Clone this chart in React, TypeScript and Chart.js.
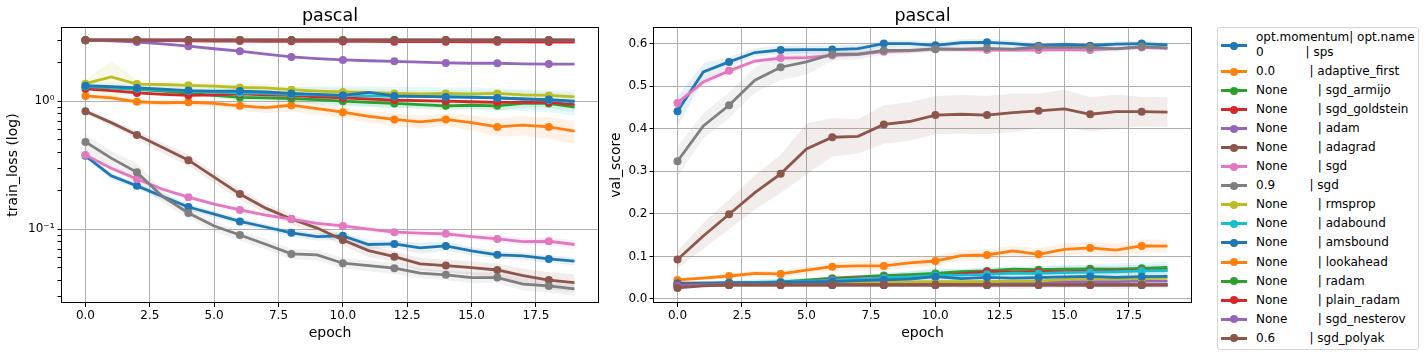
import React, { useEffect, useRef } from "react";
import { Chart, registerables } from "chart.js";
Chart.register(...registerables);

// ---------- data ----------
const EPOCHS = [0, 1, 2, 3, 4, 5, 6, 7, 8, 9, 10, 11, 12, 13, 14, 15, 16, 17, 18, 19];
const MARKER_EPOCHS = [0, 2, 4, 6, 8, 10, 12, 14, 16, 18];
const X_TICKS = [0, 2.5, 5, 7.5, 10, 12.5, 15, 17.5];
const LOG_TICKS = [0.03, 0.04, 0.05, 0.06, 0.07, 0.08, 0.09, 0.1, 0.2, 0.3, 0.4, 0.5, 0.6, 0.7, 0.8, 0.9, 1, 2, 3];
const LOG_MAJOR = [0.1, 1];
const LOG_LABELS = ["10⁻¹", "10⁰"];
const VAL_TICKS = [0, 0.1, 0.2, 0.3, 0.4, 0.5, 0.6];

const TITLE = "pascal";
const LEGEND_HEADER = "opt.momentum| opt.name";
const OPT_MOMENTUM = ["0", "0.0", "None", "None", "None", "None", "None", "0.9", "None", "None", "None", "None", "None", "None", "None", "0.6"];
const OPT_NAME = ["sps", "adaptive_first", "sgd_armijo", "sgd_goldstein", "adam", "adagrad", "sgd", "sgd", "rmsprop", "adabound", "amsbound", "lookahead", "radam", "plain_radam", "sgd_nesterov", "sgd_polyak"];
const COLORS = ["#1f77b4", "#ff7f0e", "#2ca02c", "#d62728", "#9467bd", "#8c564b", "#e377c2", "#7f7f7f", "#bcbd22", "#17becf", "#1f77b4", "#ff7f0e", "#2ca02c", "#d62728", "#9467bd", "#8c564b"];

// train_loss
const TRAIN_SPS = [0.374, 0.261, 0.218, 0.18, 0.149, 0.131, 0.115, 0.104, 0.0936, 0.0875, 0.0887, 0.0759, 0.0767, 0.0714, 0.074, 0.0676, 0.063, 0.0618, 0.0586, 0.0562];
const TRAIN_ADAPTIVE_FIRST = [1.1, 1.06, 0.99, 0.97, 0.98, 0.96, 0.92, 0.89, 0.93, 0.875, 0.82, 0.76, 0.72, 0.69, 0.72, 0.68, 0.63, 0.65, 0.63, 0.583];
const TRAIN_SGD_ARMIJO = [1.29, 1.27, 1.24, 1.2, 1.15, 1.11, 1.07, 1.06, 1.05, 1.03, 1.0, 0.98, 0.96, 0.94, 0.92, 0.93, 0.92, 0.96, 0.96, 0.9];
const TRAIN_SGD_GOLDSTEIN = [1.25, 1.21, 1.16, 1.13, 1.11, 1.12, 1.14, 1.12, 1.11, 1.08, 1.06, 1.04, 1.02, 1.01, 1.0, 0.99, 0.98, 0.98, 0.98, 0.94];
const TRAIN_ADAM = [3.0, 2.96, 2.9, 2.8, 2.69, 2.57, 2.46, 2.33, 2.22, 2.15, 2.1, 2.07, 2.05, 2.02, 1.99, 1.98, 1.98, 1.96, 1.95, 1.95];
const TRAIN_ADAGRAD = [0.835, 0.68, 0.545, 0.434, 0.346, 0.255, 0.188, 0.146, 0.12, 0.102, 0.0824, 0.068, 0.061, 0.0536, 0.052, 0.05, 0.048, 0.0434, 0.04, 0.0383];
const TRAIN_SGD = [0.38, 0.299, 0.247, 0.205, 0.178, 0.157, 0.1415, 0.129, 0.12, 0.111, 0.106, 0.1, 0.0947, 0.093, 0.092, 0.0876, 0.084, 0.08, 0.0805, 0.0759];
const TRAIN_SGD_09 = [0.481, 0.359, 0.278, 0.18, 0.134, 0.106, 0.09, 0.0763, 0.0641, 0.063, 0.0542, 0.052, 0.0496, 0.0453, 0.044, 0.0419, 0.0419, 0.0372, 0.036, 0.0342];
const TRAIN_RMSPROP = [1.37, 1.55, 1.36, 1.35, 1.33, 1.31, 1.28, 1.27, 1.23, 1.2, 1.18, 1.17, 1.15, 1.14, 1.15, 1.14, 1.15, 1.12, 1.11, 1.08];
const TRAIN_ADABOUND = [1.3, 1.28, 1.25, 1.22, 1.2, 1.18, 1.16, 1.15, 1.13, 1.12, 1.11, 1.1, 1.09, 1.09, 1.08, 1.08, 1.06, 1.04, 1.02, 0.99];
const TRAIN_AMSBOUND = [1.32, 1.3, 1.27, 1.24, 1.21, 1.2, 1.2, 1.18, 1.15, 1.13, 1.11, 1.17, 1.1, 1.09, 1.08, 1.07, 1.06, 1.04, 1.03, 1.0];
const TRAIN_LOOKAHEAD = [3.0, 3.0, 3.0, 3.0, 3.0, 3.0, 3.0, 3.0, 3.0, 3.0, 3.0, 3.0, 3.0, 3.0, 3.0, 3.0, 3.0, 3.0, 3.0, 3.0];
const TRAIN_RADAM = [3.0, 3.0, 3.0, 2.99, 2.99, 2.99, 2.99, 2.99, 2.99, 2.99, 2.99, 2.99, 2.99, 2.99, 2.99, 2.99, 2.99, 2.99, 2.99, 2.99];
const TRAIN_PLAIN_RADAM = [3.0, 2.99, 2.98, 2.97, 2.96, 2.95, 2.95, 2.94, 2.94, 2.93, 2.93, 2.93, 2.92, 2.92, 2.92, 2.91, 2.91, 2.91, 2.9, 2.9];
const TRAIN_SGD_NESTEROV = [3.0, 3.0, 3.0, 3.0, 3.0, 3.0, 3.0, 3.0, 3.0, 3.0, 3.0, 3.0, 3.0, 3.0, 3.0, 3.0, 3.0, 3.0, 3.0, 3.0];
const TRAIN_SGD_POLYAK = [3.01, 3.01, 3.01, 3.01, 3.01, 3.01, 3.01, 3.01, 3.01, 3.01, 3.01, 3.01, 3.01, 3.01, 3.01, 3.01, 3.01, 3.01, 3.01, 3.01];

// spread (half-width of shaded band) for train_loss
const TRAIN_BAND_SPS = [0.02, 0.015, 0.012, 0.01, 0.009, 0.008, 0.007, 0.006, 0.006, 0.006, 0.006, 0.006, 0.005, 0.007, 0.006, 0.005, 0.004, 0.004, 0.004, 0.004];
const TRAIN_BAND_ADAPTIVE_FIRST = [0.06, 0.06, 0.05, 0.05, 0.06, 0.06, 0.07, 0.08, 0.1, 0.09, 0.08, 0.08, 0.08, 0.08, 0.08, 0.09, 0.1, 0.11, 0.12, 0.12];
const TRAIN_BAND_SGD_ARMIJO = [0.05, 0.05, 0.05, 0.05, 0.05, 0.05, 0.06, 0.06, 0.06, 0.06, 0.06, 0.07, 0.07, 0.07, 0.07, 0.07, 0.08, 0.08, 0.08, 0.08];
const TRAIN_BAND_ADAGRAD = [0.04, 0.04, 0.04, 0.04, 0.035, 0.025, 0.018, 0.013, 0.011, 0.009, 0.008, 0.007, 0.006, 0.006, 0.006, 0.006, 0.006, 0.006, 0.006, 0.006];
const TRAIN_BAND_SGD = [0.015, 0.012, 0.01, 0.008, 0.007, 0.006, 0.006, 0.005, 0.005, 0.005, 0.005, 0.005, 0.005, 0.005, 0.005, 0.005, 0.005, 0.005, 0.006, 0.006];
const TRAIN_BAND_SGD_09 = [0.07, 0.05, 0.05, 0.02, 0.012, 0.01, 0.008, 0.007, 0.006, 0.006, 0.005, 0.005, 0.005, 0.004, 0.004, 0.004, 0.004, 0.004, 0.004, 0.004];
const TRAIN_BAND_RMSPROP = [0.1, 0.5, 0.1, 0.08, 0.08, 0.08, 0.08, 0.1, 0.08, 0.08, 0.08, 0.08, 0.08, 0.08, 0.08, 0.08, 0.08, 0.08, 0.08, 0.08];
const TRAIN_BAND_ADABOUND = [0.1, 0.1, 0.1, 0.1, 0.1, 0.1, 0.12, 0.12, 0.15, 0.18, 0.2, 0.2, 0.2, 0.2, 0.2, 0.2, 0.2, 0.2, 0.2, 0.22];

// val_score
const VAL_SPS = [0.441, 0.5335, 0.557, 0.579, 0.585, 0.586, 0.586, 0.588, 0.6, 0.6, 0.596, 0.602, 0.603, 0.6, 0.595, 0.598, 0.595, 0.599, 0.6, 0.597];
const VAL_ADAPTIVE_FIRST = [0.0447, 0.049, 0.054, 0.06, 0.0588, 0.068, 0.076, 0.078, 0.0776, 0.085, 0.0893, 0.1018, 0.1034, 0.1128, 0.105, 0.1168, 0.12, 0.115, 0.1246, 0.124];
const VAL_SGD_ARMIJO = [0.035, 0.036, 0.037, 0.038, 0.04, 0.044, 0.049, 0.052, 0.055, 0.057, 0.06, 0.064, 0.066, 0.07, 0.069, 0.07, 0.071, 0.07, 0.072, 0.074];
const VAL_SGD_GOLDSTEIN = [0.034, 0.036, 0.037, 0.038, 0.039, 0.042, 0.046, 0.049, 0.051, 0.052, 0.053, 0.059, 0.064, 0.063, 0.064, 0.064, 0.065, 0.066, 0.067, 0.068];
const VAL_ADAM = [0.031, 0.034, 0.035, 0.035, 0.036, 0.036, 0.037, 0.037, 0.038, 0.038, 0.039, 0.039, 0.04, 0.04, 0.04, 0.041, 0.041, 0.041, 0.042, 0.042];
const VAL_ADAGRAD = [0.093, 0.148, 0.199, 0.25, 0.294, 0.3525, 0.38, 0.382, 0.41, 0.417, 0.432, 0.434, 0.432, 0.438, 0.442, 0.4465, 0.434, 0.44, 0.44, 0.439];
const VAL_SGD = [0.4606, 0.51, 0.536, 0.559, 0.566, 0.567, 0.572, 0.575, 0.581, 0.583, 0.587, 0.586, 0.585, 0.585, 0.585, 0.586, 0.585, 0.588, 0.591, 0.589];
const VAL_SGD_09 = [0.3235, 0.4066, 0.455, 0.514, 0.5445, 0.557, 0.575, 0.575, 0.584, 0.584, 0.5875, 0.587, 0.589, 0.587, 0.592, 0.591, 0.591, 0.5875, 0.593, 0.59];
const VAL_RMSPROP = [0.03, 0.032, 0.034, 0.034, 0.035, 0.036, 0.037, 0.037, 0.039, 0.04, 0.041, 0.041, 0.041, 0.042, 0.042, 0.046, 0.048, 0.047, 0.048, 0.049];
const VAL_ADABOUND = [0.036, 0.037, 0.038, 0.039, 0.04, 0.042, 0.044, 0.047, 0.05, 0.052, 0.055, 0.056, 0.058, 0.061, 0.06, 0.062, 0.063, 0.064, 0.066, 0.067];
const VAL_AMSBOUND = [0.037, 0.037, 0.038, 0.038, 0.039, 0.04, 0.041, 0.043, 0.045, 0.047, 0.0525, 0.048, 0.051, 0.049, 0.05, 0.052, 0.053, 0.051, 0.0525, 0.053];
const VAL_LOOKAHEAD = [0.033, 0.033, 0.033, 0.033, 0.033, 0.033, 0.033, 0.033, 0.033, 0.033, 0.033, 0.033, 0.033, 0.033, 0.033, 0.033, 0.033, 0.033, 0.033, 0.033];
const VAL_RADAM = [0.033, 0.033, 0.033, 0.033, 0.033, 0.033, 0.033, 0.033, 0.033, 0.033, 0.033, 0.033, 0.033, 0.033, 0.033, 0.033, 0.033, 0.033, 0.033, 0.033];
const VAL_PLAIN_RADAM = [0.033, 0.033, 0.033, 0.033, 0.033, 0.033, 0.033, 0.033, 0.033, 0.033, 0.033, 0.033, 0.033, 0.033, 0.033, 0.033, 0.033, 0.033, 0.033, 0.033];
const VAL_SGD_NESTEROV = [0.031, 0.033, 0.033, 0.033, 0.033, 0.033, 0.033, 0.033, 0.033, 0.033, 0.033, 0.033, 0.033, 0.033, 0.033, 0.033, 0.033, 0.033, 0.033, 0.033];
const VAL_SGD_POLYAK = [0.026, 0.031, 0.033, 0.033, 0.033, 0.033, 0.033, 0.033, 0.033, 0.033, 0.033, 0.033, 0.033, 0.033, 0.033, 0.033, 0.033, 0.033, 0.033, 0.033];

// spread (half-width of shaded band) for val_score
const VAL_BAND_SPS = [0.035, 0.02, 0.012, 0.01, 0.01, 0.01, 0.01, 0.01, 0.008, 0.008, 0.008, 0.008, 0.008, 0.007, 0.007, 0.006, 0.006, 0.006, 0.006, 0.006];
const VAL_BAND_ADAPTIVE_FIRST = [0.005, 0.005, 0.006, 0.007, 0.008, 0.009, 0.01, 0.012, 0.012, 0.012, 0.012, 0.012, 0.013, 0.013, 0.014, 0.014, 0.014, 0.015, 0.015, 0.015];
const VAL_BAND_ADAGRAD = [0.02, 0.03, 0.035, 0.04, 0.045, 0.06, 0.045, 0.04, 0.045, 0.045, 0.045, 0.045, 0.045, 0.045, 0.04, 0.045, 0.04, 0.04, 0.035, 0.035];
const VAL_BAND_SGD = [0.01, 0.008, 0.008, 0.007, 0.006, 0.006, 0.006, 0.006, 0.005, 0.005, 0.005, 0.005, 0.005, 0.005, 0.005, 0.005, 0.005, 0.005, 0.005, 0.005];
const VAL_BAND_SGD_09 = [0.035, 0.03, 0.03, 0.03, 0.03, 0.03, 0.015, 0.012, 0.01, 0.008, 0.007, 0.007, 0.007, 0.006, 0.006, 0.006, 0.006, 0.006, 0.006, 0.006];
const VAL_BAND_ADABOUND = [0.004, 0.004, 0.005, 0.006, 0.007, 0.008, 0.009, 0.01, 0.011, 0.012, 0.013, 0.014, 0.015, 0.016, 0.017, 0.018, 0.019, 0.02, 0.02, 0.02];
const VAL_BAND_AMSBOUND = [0.005, 0.005, 0.006, 0.007, 0.008, 0.009, 0.01, 0.012, 0.015, 0.018, 0.02, 0.022, 0.024, 0.025, 0.025, 0.026, 0.026, 0.027, 0.028, 0.028];

const TRAIN_SERIES = [TRAIN_SPS, TRAIN_ADAPTIVE_FIRST, TRAIN_SGD_ARMIJO, TRAIN_SGD_GOLDSTEIN, TRAIN_ADAM, TRAIN_ADAGRAD, TRAIN_SGD, TRAIN_SGD_09, TRAIN_RMSPROP, TRAIN_ADABOUND, TRAIN_AMSBOUND, TRAIN_LOOKAHEAD, TRAIN_RADAM, TRAIN_PLAIN_RADAM, TRAIN_SGD_NESTEROV, TRAIN_SGD_POLYAK];
const TRAIN_BANDS = [TRAIN_BAND_SPS, TRAIN_BAND_ADAPTIVE_FIRST, TRAIN_BAND_SGD_ARMIJO, null, null, TRAIN_BAND_ADAGRAD, TRAIN_BAND_SGD, TRAIN_BAND_SGD_09, TRAIN_BAND_RMSPROP, TRAIN_BAND_ADABOUND, null, null, null, null, null, null];
const VAL_SERIES = [VAL_SPS, VAL_ADAPTIVE_FIRST, VAL_SGD_ARMIJO, VAL_SGD_GOLDSTEIN, VAL_ADAM, VAL_ADAGRAD, VAL_SGD, VAL_SGD_09, VAL_RMSPROP, VAL_ADABOUND, VAL_AMSBOUND, VAL_LOOKAHEAD, VAL_RADAM, VAL_PLAIN_RADAM, VAL_SGD_NESTEROV, VAL_SGD_POLYAK];
const VAL_BANDS = [VAL_BAND_SPS, VAL_BAND_ADAPTIVE_FIRST, null, null, null, VAL_BAND_ADAGRAD, VAL_BAND_SGD, VAL_BAND_SGD_09, null, VAL_BAND_ADABOUND, VAL_BAND_AMSBOUND, null, null, null, null, null];

// ---------- styling ----------
const FONT = "'DejaVu Sans', sans-serif";
const GRID = "#b0b0b0";
const AXIS_TITLE_SIZE = 14;

function rgba(hex: string, a: number) {
  const n = parseInt(hex.slice(1), 16);
  return `rgba(${(n >> 16) & 255},${(n >> 8) & 255},${n & 255},${a})`;
}

function buildDatasets(series: number[][], bands: (number[] | null)[]) {
  const ds: any[] = [];
  const N = series.length;
  series.forEach((vals, i) => {
    const band = bands[i];
    if (!band) return;
    ds.push({
      data: EPOCHS.map((e, j) => ({ x: e, y: vals[j] + band[j] })),
      borderWidth: 0, borderColor: "rgba(0,0,0,0)", pointRadius: 0, fill: false, order: 200 - i,
    });
    ds.push({
      data: EPOCHS.map((e, j) => ({ x: e, y: vals[j] - band[j] })),
      borderWidth: 0, borderColor: "rgba(0,0,0,0)", pointRadius: 0, fill: "-1",
      backgroundColor: rgba(COLORS[i], 0.11), order: 200 - i,
    });
  });
  series.forEach((vals, i) => {
    ds.push({
      data: EPOCHS.map((e, j) => ({ x: e, y: vals[j] })),
      borderColor: COLORS[i],
      backgroundColor: COLORS[i],
      pointBackgroundColor: COLORS[i],
      borderWidth: 2.8,
      pointBorderWidth: 0,
      pointRadius: (ctx: any) => (MARKER_EPOCHS.includes(EPOCHS[ctx.dataIndex]) ? 4 : 0),
      tension: 0,
      fill: false,
      order: N - i,
    });
  });
  return ds;
}

const framePlugin = {
  id: "frame",
  afterDatasetsDraw(chart: any) {
    const { ctx, chartArea } = chart;
    const { left, top, right, bottom } = chartArea;
    ctx.save();
    ctx.strokeStyle = "#000";
    ctx.lineWidth = 1;
    ctx.strokeRect(Math.round(left) + 0.5, Math.round(top) + 0.5, Math.round(right - left) - 1, Math.round(bottom - top) - 1);
    ctx.restore();
  },
};

function xScale() {
  return {
    type: "linear",
    min: -0.95,
    max: 19.95,
    afterBuildTicks: (s: any) => { s.ticks = X_TICKS.map((v) => ({ value: v })); },
    afterFit: (s: any) => { s.height = 54; },
    ticks: { callback: (v: any) => Number(v).toFixed(1), font: { family: FONT, size: 12 }, color: "#000", padding: 2, autoSkip: false, maxRotation: 0 },
    grid: { color: GRID, lineWidth: 1, tickColor: "#000", tickLength: 4, drawTicks: true },
    border: { display: false },
    title: { display: true, text: "epoch", font: { family: FONT, size: AXIS_TITLE_SIZE }, color: "#000", padding: { top: 0, bottom: 15.5 } },
  };
}

function trainConfig(): any {
  return {
    type: "line",
    data: { datasets: buildDatasets(TRAIN_SERIES, TRAIN_BANDS) },
    options: {
      animation: false, responsive: false, devicePixelRatio: 1, events: [],
      layout: { padding: { top: 27, right: 6, left: 0, bottom: 0 } },
      plugins: { legend: { display: false }, tooltip: { enabled: false }, title: { display: false } },
      scales: {
        x: xScale(),
        y: {
          type: "logarithmic",
          min: 0.0265,
          max: 3.8,
          afterBuildTicks: (s: any) => { s.ticks = LOG_TICKS.map((v) => ({ value: v, major: false })); },
          afterFit: (s: any) => { s.width = 61; },
          ticks: {
            autoSkip: false,
            callback: (v: any) => {
              const k = LOG_MAJOR.findIndex((m) => Math.abs(m - Number(v)) < 1e-9);
              return k >= 0 ? LOG_LABELS[k] : "";
            },
            font: { family: FONT, size: 12 }, color: "#000", padding: 3,
          },
          grid: {
            color: (ctx: any) => (ctx.tick && LOG_MAJOR.some((m) => Math.abs(m - ctx.tick.value) < 1e-9) ? GRID : "rgba(0,0,0,0)"),
            tickColor: "#000", tickLength: 3.5, lineWidth: 1,
          },
          border: { display: false },
          title: { display: true, text: "train_loss (log)", font: { family: FONT, size: AXIS_TITLE_SIZE }, color: "#000", padding: { top: 5, bottom: 0 } },
        },
      },
    },
    plugins: [framePlugin],
  };
}

function valConfig(): any {
  return {
    type: "line",
    data: { datasets: buildDatasets(VAL_SERIES, VAL_BANDS) },
    options: {
      animation: false, responsive: false, devicePixelRatio: 1, events: [],
      layout: { padding: { top: 27, right: 5, left: 0, bottom: 0 } },
      plugins: { legend: { display: false }, tooltip: { enabled: false }, title: { display: false } },
      scales: {
        x: xScale(),
        y: {
          type: "linear",
          min: -0.0094,
          max: 0.639,
          afterBuildTicks: (s: any) => { s.ticks = VAL_TICKS.map((v) => ({ value: v })); },
          afterFit: (s: any) => { s.width = 48; },
          ticks: { autoSkip: false, callback: (v: any) => Number(v).toFixed(1), font: { family: FONT, size: 12 }, color: "#000", padding: 2 },
          grid: { color: GRID, tickColor: "#000", tickLength: 3.5, lineWidth: 1 },
          border: { display: false },
          title: { display: true, text: "val_score", font: { family: FONT, size: AXIS_TITLE_SIZE }, color: "#000", padding: { top: 2.5, bottom: 0 } },
        },
      },
    },
    plugins: [framePlugin],
  };
}

function ChartCanvas({ left, width, makeConfig }: { left: number; width: number; makeConfig: () => any }) {
  const ref = useRef<HTMLCanvasElement>(null);
  useEffect(() => {
    const chart = new Chart(ref.current as HTMLCanvasElement, makeConfig());
    return () => chart.destroy();
  }, []);
  return (
    <canvas
      ref={ref}
      width={width}
      height={357}
      style={{ position: "absolute", left, top: 0, width, height: 357, display: "block" }}
    />
  );
}

function Legend() {
  const rows: number[] = [45.5];
  for (let k = 1; k < OPT_NAME.length; k++) rows.push(71.5 + 19.05 * (k - 1));
  return (
    <div>
      <div
        style={{
          position: "absolute", left: 1217, top: 27, width: 202, height: 323, boxSizing: "border-box",
          border: "1px solid #d5d5d5", borderRadius: 3, background: "#fff",
        }}
      />
      {OPT_NAME.map((name, i) => {
        const cy = rows[i];
        const label = OPT_MOMENTUM[i].padEnd(12, " ") + "| " + name;
        const text = i === 0 ? LEGEND_HEADER + "\n" + label : label;
        const textTop = i === 0 ? 30.2 : cy - 7.5;
        return (
          <React.Fragment key={i}>
            <div style={{ position: "absolute", left: 1221, top: cy - 1.5, width: 26, height: 3, background: COLORS[i] }} />
            <div style={{ position: "absolute", left: 1230, top: cy - 4, width: 8, height: 8, borderRadius: 4, background: COLORS[i] }} />
            <div
              style={{
                position: "absolute", left: 1256, top: textTop, whiteSpace: "pre", fontFamily: FONT,
                fontSize: 12, lineHeight: "15px", color: "#000",
              }}
            >
              {text}
            </div>
          </React.Fragment>
        );
      })}
    </div>
  );
}

export default function App() {
  const titleStyle: React.CSSProperties = {
    position: "absolute", top: 4, fontFamily: FONT, fontSize: 17.5, lineHeight: "22px", textAlign: "center", color: "#000",
  };
  return (
    <div style={{ position: "absolute", left: 0, top: 0, width: 1426, height: 357, overflow: "hidden", background: "#fff" }}>
      <ChartCanvas left={0} width={605} makeConfig={trainConfig} />
      <ChartCanvas left={605} width={592} makeConfig={valConfig} />
      <div style={{ ...titleStyle, left: 61, width: 538 }}>{TITLE}</div>
      <div style={{ ...titleStyle, left: 653, width: 539 }}>{TITLE}</div>
      <Legend />
    </div>
  );
}
